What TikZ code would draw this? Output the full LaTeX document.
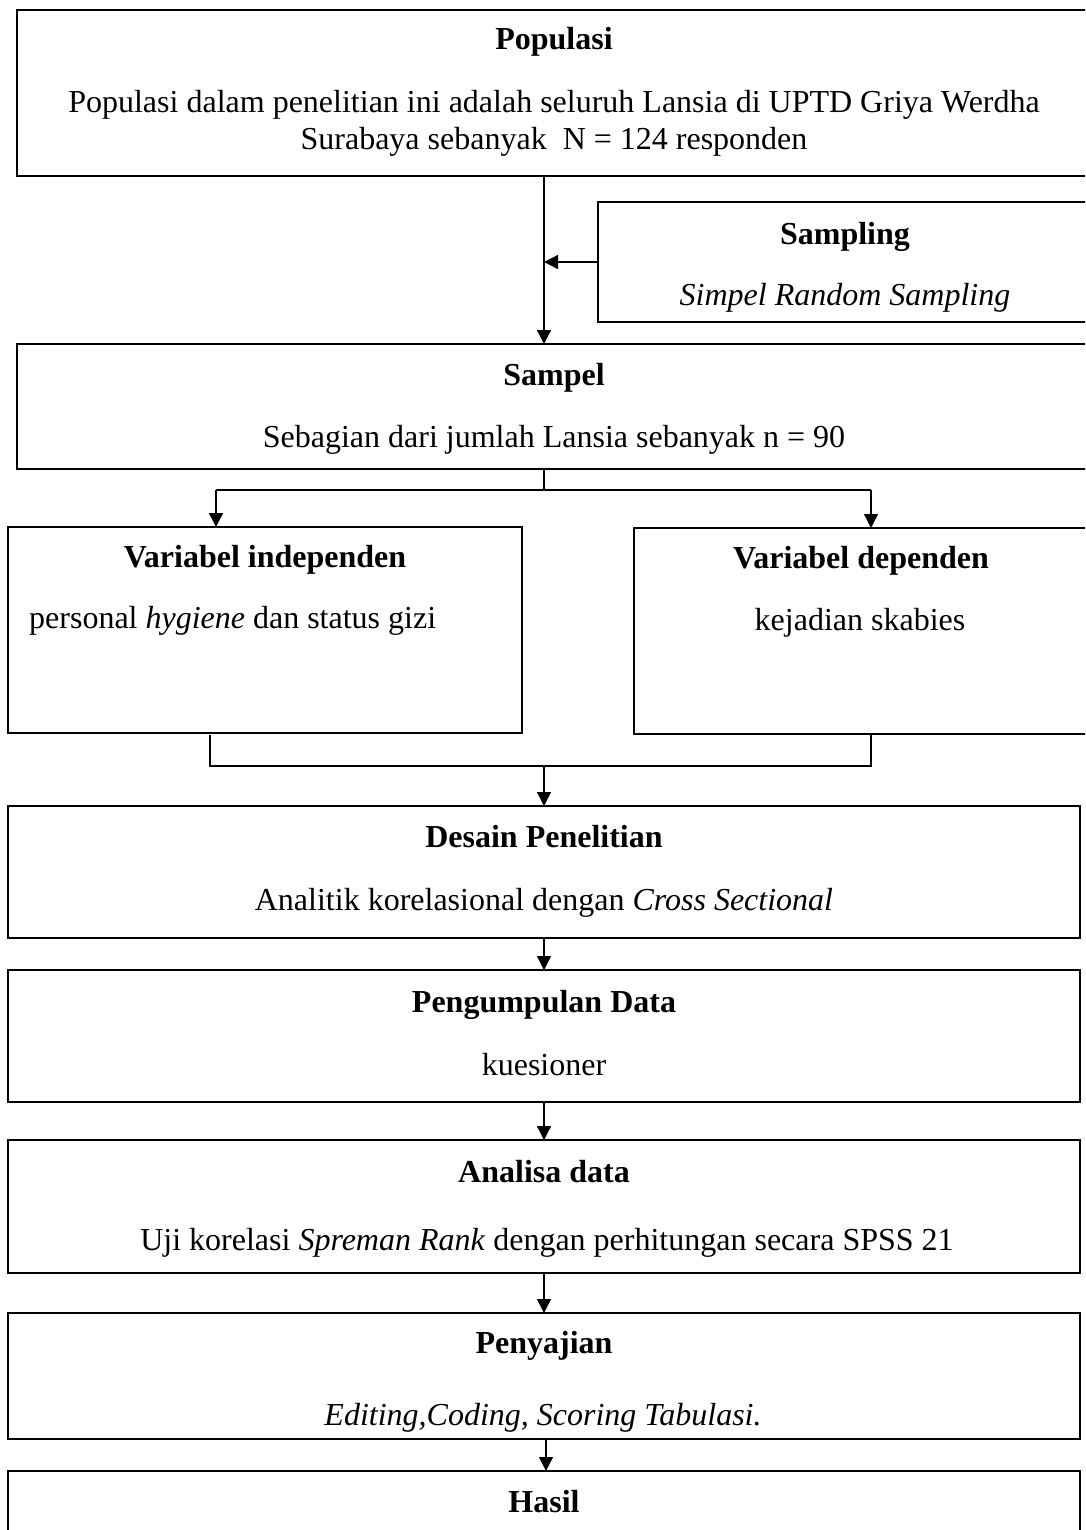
\documentclass[tikz,border=0pt]{standalone}
\usepackage{fontspec}
\setmainfont{Liberation Serif}
\usetikzlibrary{arrows.meta}
\begin{document}
\begin{tikzpicture}[x=1pt,y=-1pt,
  box/.style={draw, line width=1.4pt, inner sep=0pt, outer sep=0pt},
  ttl/.style={font=\fontsize{32}{37}\selectfont\bfseries, anchor=base, inner sep=0pt},
  txt/.style={font=\fontsize{32}{37}\selectfont, anchor=base, inner sep=0pt},
  arr/.style={-{Triangle[width=14pt,length=14pt]}, line width=1.3pt},
  ln/.style={line width=1.3pt}]
\path[use as bounding box] (0,0) rectangle (1085,1530);
\clip (0,0) rectangle (1085,1530);
\fill[white] (0,0) rectangle (1085,1530);

% boxes
\node[box, minimum width=1074pt, minimum height=166pt] (pop) at (554,93) {};
\node[box, minimum width=494pt, minimum height=120pt] (samp) at (845,262) {};
\node[box, minimum width=1074pt, minimum height=125pt] (sampel) at (554,406.5) {};
\node[box, minimum width=514pt, minimum height=206pt] (varind) at (265,630) {};
\node[box, minimum width=454pt, minimum height=206pt] (vardep) at (861,631) {};
\node[box, minimum width=1072pt, minimum height=132pt] (desain) at (544,872) {};
\node[box, minimum width=1072pt, minimum height=132pt] (peng) at (544,1036) {};
\node[box, minimum width=1072pt, minimum height=133pt] (analisa) at (544,1206.5) {};
\node[box, minimum width=1072pt, minimum height=126pt] (sajian) at (544,1376) {};
\node[box, minimum width=1072pt, minimum height=129pt] (hasil) at (544,1535.5) {};

% texts
\node[ttl] (popT) at (554,50) {Populasi};
\node[txt] (popA) at (554,113) {Populasi dalam penelitian ini adalah seluruh Lansia di UPTD Griya Werdha};
\node[txt] (popB) at (554,150) {Surabaya sebanyak\ \ N = 124 responden};

\node[ttl] (sampT) at (845,245) {Sampling};
\node[txt] (sampA) at (845,305) {\textit{Simpel Random Sampling}};

\node[ttl] (sampelT) at (554,385) {Sampel};
\node[txt] (sampelA) at (554,447) {Sebagian dari jumlah Lansia sebanyak n = 90};

\node[ttl] (varindT) at (265,567) {Variabel independen};
\node[txt, anchor=base west] (varindA) at (29,628) {personal \textit{hygiene} dan status gizi};

\node[ttl] (vardepT) at (861,568) {Variabel dependen};
\node[txt] (vardepA) at (860,630) {kejadian skabies};

\node[ttl] (desainT) at (544,847) {Desain Penelitian};
\node[txt] (desainA) at (544,910) {Analitik korelasional dengan \textit{Cross Sectional}};

\node[ttl] (pengT) at (544,1012) {Pengumpulan Data};
\node[txt] (pengA) at (544,1075) {kuesioner};

\node[ttl] (analisaT) at (544,1182) {Analisa data};
\node[txt] (analisaA) at (547,1250) {Uji korelasi \textit{Spreman Rank} dengan perhitungan secara SPSS 21};

\node[ttl] (sajianT) at (544,1353) {Penyajian};
\node[txt] (sajianA) at (543,1425) {\textit{Editing,Coding, Scoring Tabulasi.}};

\node[ttl] (hasilT) at (544,1512) {Hasil};

% connectors
\coordinate (spine) at (544,0);
\draw[arr] (pop.south -| spine) -- (sampel.north -| spine);
\draw[arr] (samp.west) -- (samp.west -| spine);

\coordinate (split) at (544,490);
\coordinate (lft) at (216,490);
\coordinate (rgt) at (871,490);
\draw[ln] (sampel.south -| spine) -- (split);
\draw[ln] (lft) -- (rgt);
\draw[arr] (lft) -- (varind.north -| lft);
\draw[arr] (rgt) -- (vardep.north -| rgt);

\coordinate (jl) at (210,766);
\coordinate (jr) at (871,766);
\coordinate (jm) at (544,766);
\draw[ln] ([yshift=-2pt]varind.south -| jl) -- (jl) -- (jr) -- (vardep.south -| jr);
\draw[arr] (jm) -- (desain.north);

\draw[arr] (desain.south) -- (peng.north);
\draw[arr] (peng.south) -- (analisa.north);
\draw[arr] (analisa.south) -- (sajian.north);
\draw[arr] ([xshift=2pt]sajian.south) -- ([xshift=2pt]hasil.north);
\end{tikzpicture}
\end{document}
